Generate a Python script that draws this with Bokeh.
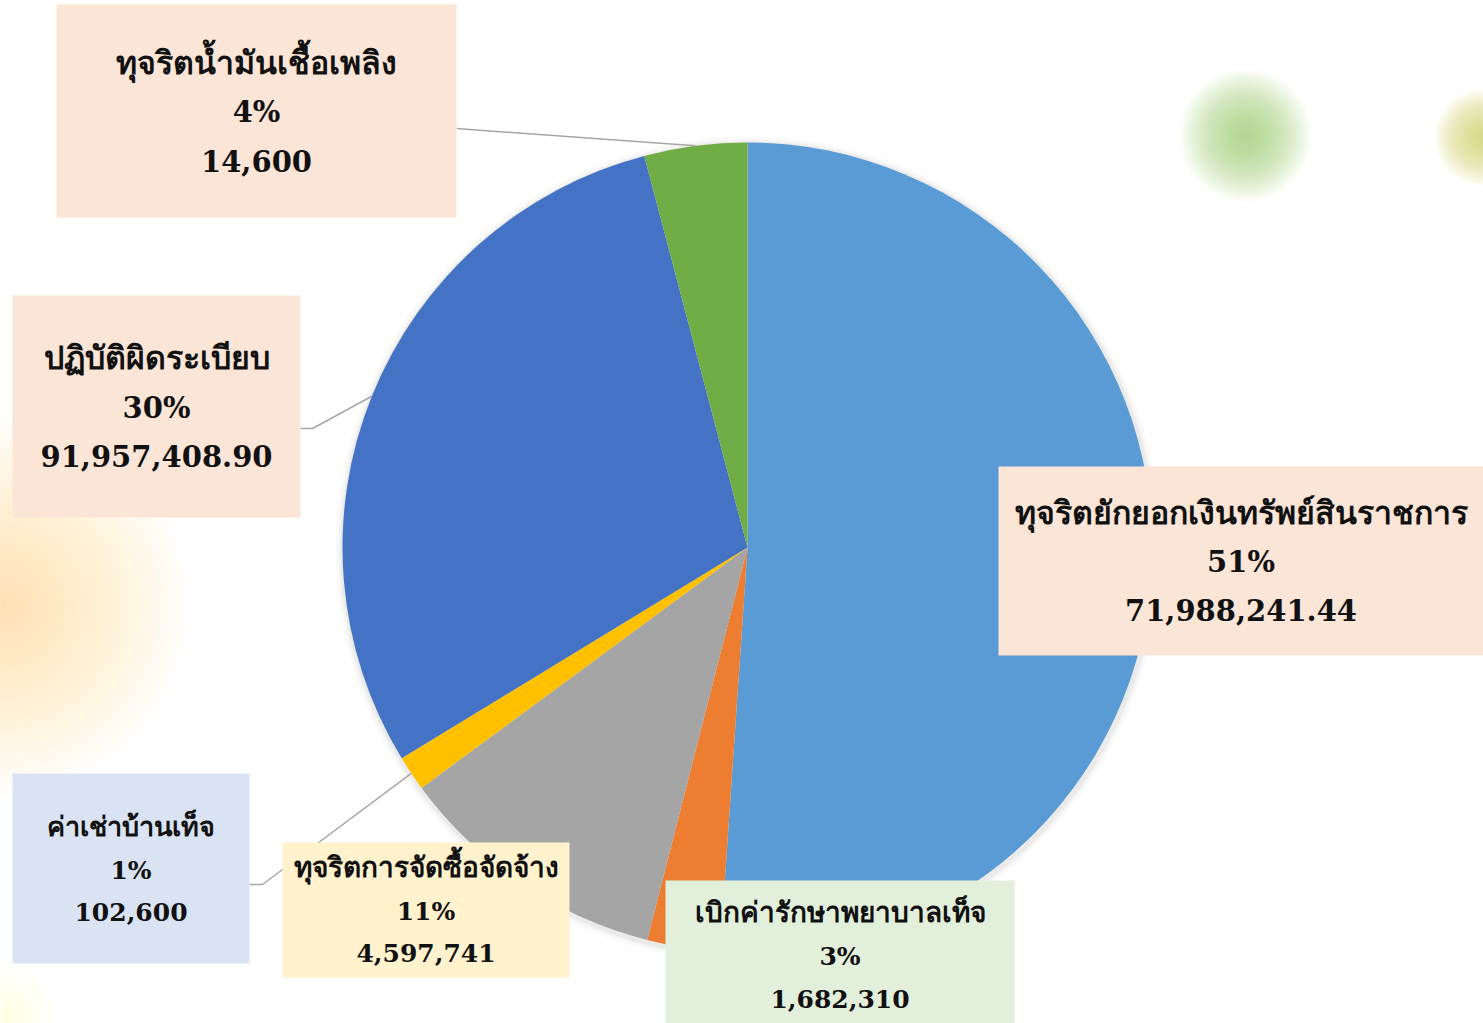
import numpy as np
from bokeh.plotting import figure
from bokeh.models import Range1d
from bokeh.embed import file_html
from bokeh.resources import INLINE
from bokeh.core.properties import value

# ---------------- data ----------------
categories = ["ทุจริตยักยอกเงินทรัพย์สินราชการ", "เบิกค่ารักษาพยาบาลเท็จ",
              "ทุจริตการจัดซื้อจัดจ้าง", "ค่าเช่าบ้านเท็จ",
              "ปฏิบัติผิดระเบียบ", "ทุจริตน้ำมันเชื้อเพลิง"]
shares = [51.06, 2.9, 10.9, 1.4, 29.6, 4.1]
pct_labels = ["51%", "3%", "11%", "1%", "30%", "4%"]
amount_labels = ["71,988,241.44", "1,682,310", "4,597,741", "102,600",
                 "91,957,408.90", "14,600"]
colors = ["#5B9BD5", "#ED7D31", "#A5A5A5", "#FFC000", "#4472C4", "#70AD47"]

# ---------------- layout ----------------
W, H = 1483, 1023
def Y(py):
    return H - py

cx, cy, R = 747, Y(547), 405

# label boxes in pixel coords; fs = font px for numbers, tfs = font px for Thai line
boxes = [
    dict(l=998, r=1483, t=466, b=655, fill="#FBE5D6", fs=29, tfs=32, ys=[512, 561, 609], leader=None),
    dict(l=665, r=1014, t=880, b=1023, fill="#E2EFDA", fs=25, tfs=28, ys=[912, 956, 998], leader=None),
    dict(l=282, r=569, t=842, b=977, fill="#FFF2CC", fs=25, tfs=28, ys=[867, 911, 952], leader=None),
    dict(l=12, r=249, t=773, b=963, fill="#DAE3F3", fs=25, tfs=27, ys=[826, 870, 911], leader=(249, 262, 884)),
    dict(l=12, r=300, t=295, b=517, fill="#FBE5D6", fs=29, tfs=32, ys=[357, 407, 455], leader=(300, 312, 428)),
    dict(l=56, r=456, t=4, b=217, fill="#FBE5D6", fs=29, tfs=32, ys=[62, 111, 160], leader=(456, 456, 128)),
]

p = figure(width=W, height=H, x_range=Range1d(0, W), y_range=Range1d(0, H),
           output_backend="svg", toolbar_location=None, min_border=0)
p.axis.visible = False
p.grid.visible = False
p.outline_line_color = None
p.background_fill_color = "white"
p.border_fill_color = "white"

# soft background blobs (decoration)
def blob(x, y, r, color, a=0.04, n=30):
    rs = [r * (1 - i / n) for i in range(n)]
    p.circle(x=[x] * n, y=[Y(y)] * n, radius=rs, fill_color=color, fill_alpha=a, line_color=None)

blob(1245, 135, 66, "#A3D06A", 0.045)
blob(1482, 137, 48, "#CFDC6E", 0.05)
blob(0, 605, 190, "#F3C877", 0.022)
blob(0, 1020, 60, "#F1E6B0", 0.012)

# pie shadow
for dr, a in [(8, 0.04), (5, 0.06), (3, 0.08)]:
    p.circle(x=[cx + 1], y=[cy - 2], radius=R + dr, fill_color="#808080", fill_alpha=a, line_color=None)

# wedges, clockwise from 12 o'clock
vals = np.array(shares, dtype=float)
frac = vals / vals.sum()
cum = np.concatenate([[0], np.cumsum(frac)])
start = np.pi / 2 - cum[1:] * 2 * np.pi
end = np.pi / 2 - cum[:-1] * 2 * np.pi
p.wedge(x=[cx] * len(vals), y=[cy] * len(vals), radius=R,
        start_angle=list(start), end_angle=list(end),
        fill_color=colors, line_color=None)

# leader lines
mid = np.pi / 2 - (cum[:-1] + frac / 2) * 2 * np.pi
for i, b in enumerate(boxes):
    if b["leader"] is None:
        continue
    x0, x1, ly = b["leader"]
    ex = cx + R * np.cos(mid[i])
    ey = cy + R * np.sin(mid[i])
    p.line(x=[x0, x1, ex], y=[Y(ly), Y(ly), ey], line_color="#A6A6A6", line_width=1.5)

# label boxes and texts
for i, b in enumerate(boxes):
    p.quad(left=[b["l"]], right=[b["r"]], top=[Y(b["t"])], bottom=[Y(b["b"])],
           fill_color=b["fill"], line_color=None)
    xc = (b["l"] + b["r"]) / 2
    p.text(x=[xc], y=[Y(b["ys"][0])], text=[categories[i]],
           text_font=value("DejaVu Serif"), text_font_style="bold",
           text_font_size=f"{b['tfs']}px", text_color="#111111",
           text_align="center", text_baseline="middle")
    p.text(x=[xc, xc], y=[Y(b["ys"][1]), Y(b["ys"][2])],
           text=[pct_labels[i], amount_labels[i]],
           text_font=value("DejaVu Serif"), text_font_style="bold",
           text_font_size=f"{b['fs']}px", text_color="#111111",
           text_align="center", text_baseline="middle")

open("out.html", "w").write(file_html(p, INLINE))
